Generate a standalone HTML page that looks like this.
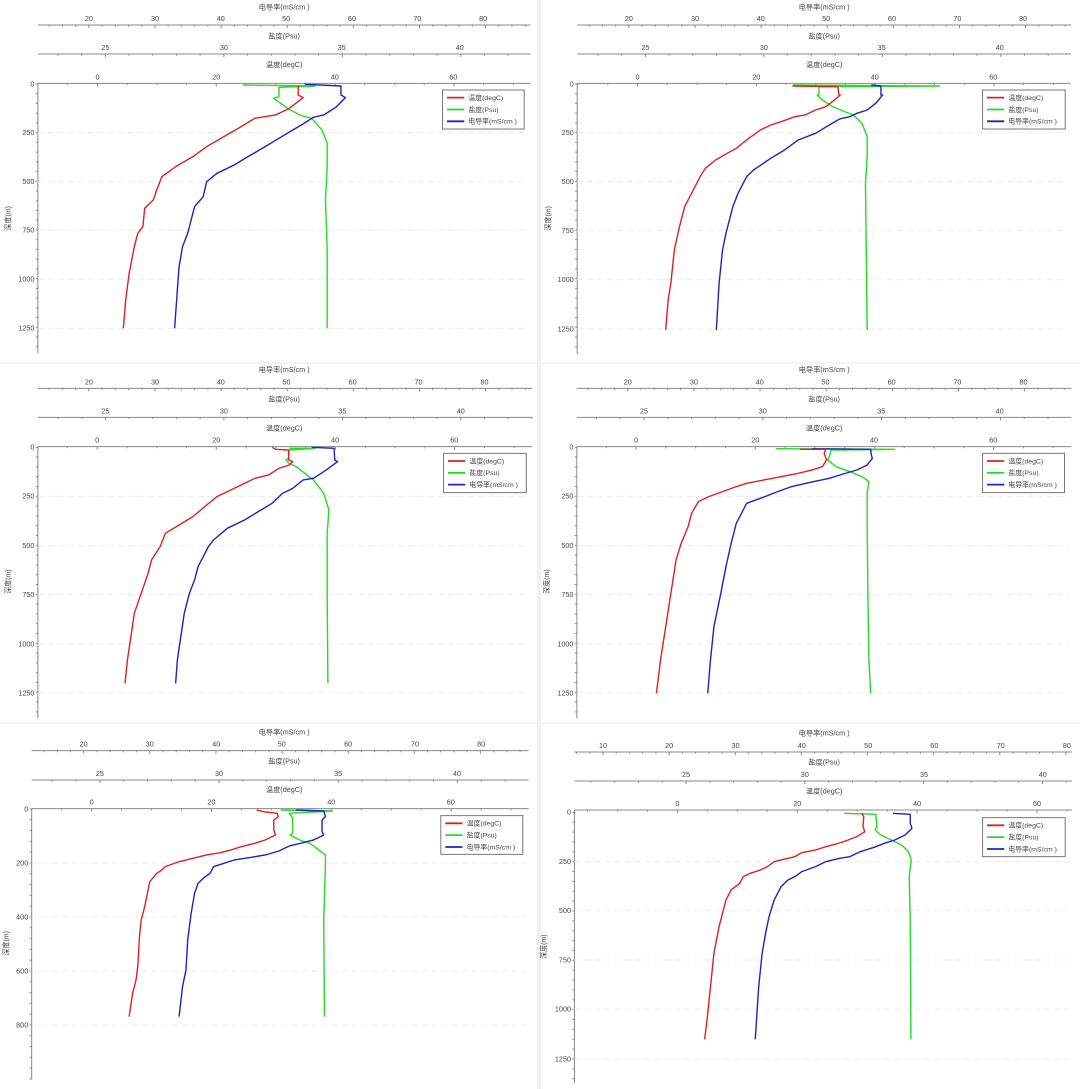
<!DOCTYPE html>
<html><head><meta charset="utf-8"><style>
html,body{margin:0;padding:0;background:#fff;}
svg{display:block;}
text{font-family:"Liberation Sans","Noto Sans CJK SC",sans-serif;fill:#444;}
</style></head><body>
<svg id="s" width="1080" height="1089" viewBox="0 0 1080 1089" xmlns="http://www.w3.org/2000/svg">
<rect width="1080" height="1089" fill="#fff"/>
<rect x="537" y="0" width="4" height="1089" fill="#f0f0f0"/>
<rect x="0" y="362" width="1080" height="2" fill="#f3f3f3"/>
<rect x="0" y="722" width="1080" height="2" fill="#f3f3f3"/>
</svg>
<script>
var NS="http://www.w3.org/2000/svg";
var svg=document.getElementById('s');
function el(p,n,a,t){var e=document.createElementNS(NS,n);for(var k in a)e.setAttribute(k,a[k]);if(t!==undefined)e.textContent=t;p.appendChild(e);return e;}
function ln(g,x1,y1,x2,y2,c,w,d){var a={x1:x1,y1:y1,x2:x2,y2:y2,stroke:c,'stroke-width':w||1,'vector-effect':'non-scaling-stroke'};if(d)a['stroke-dasharray']=d;el(g,'line',a);}
function tx(g,x,y,s,anc,fs){el(g,'text',{x:x,y:y,'font-size':fs||21,'text-anchor':anc||'middle'},s);}
function pl(g,pts,c){el(g,'polyline',{points:pts,fill:'none',stroke:c,'stroke-width':1.4,'stroke-linejoin':'round','vector-effect':'non-scaling-stroke'});}

var P=[
{ox:0,oy:0,L:110,R:1540,t1:22,ca:75,cl:[[20,258],[30,450],[40,641],[50,831],[60,1022],[70,1212],[80,1403]],
 st:110,sa:162,sl:[[25,306],[30,650],[35,992],[40,1335]],tt:195,ta:250,tl:[[0,283],[20,628],[40,972],[60,1316]],
 dl:[[0,252],[250,398],[500,545],[750,691],[1000,838],[1250,985]],dstep:50,dbot:1060,leg:[1285,270,237,117],yt:[25,655],
 r:"866,258 866,285 880,293 840,325 800,345 740,355 700,380 650,410 600,440 560,470 510,500 470,530 455,570 445,600 420,625 415,680 400,700 390,740 375,820 365,900 358,985",
 b:"885,253 990,258 990,285 1003,293 975,322 940,345 910,352 880,372 850,390 810,415 770,440 720,470 680,495 630,520 600,545 590,590 565,620 555,660 545,700 530,740 520,800 515,870 507,985",
 g:"705,255 915,258 810,262 810,290 795,295 835,325 870,345 905,355 935,390 950,430 950,500 945,600 950,750 950,985"},
{ox:540,oy:0,L:108,R:1542,t1:22,ca:75,cl:[[20,258],[30,450],[40,641],[50,831],[60,1022],[70,1212],[80,1403]],
 st:110,sa:162,sl:[[25,306],[30,650],[35,992],[40,1335]],tt:195,ta:250,tl:[[0,283],[20,628],[40,972],[60,1316]],
 dl:[[0,252],[250,398],[500,545],[750,692],[1000,839],[1250,987]],dstep:50,dbot:1062,leg:[1285,270,240,117],yt:[25,655],
 r:"735,255 735,258 865,260 868,285 872,285 855,300 830,320 800,330 770,345 740,350 700,365 670,375 640,390 600,420 570,445 540,462 510,480 480,505 465,530 440,580 420,620 405,680 390,750 385,800 380,850 372,900 365,990",
 b:"962,255 990,258 990,285 995,285 975,310 950,330 920,340 900,350 870,357 840,375 800,400 750,420 710,450 670,475 620,510 600,530 575,580 560,620 550,660 540,700 530,750 520,850 512,990",
 g:"735,255 1160,258 810,260 810,285 805,285 820,300 850,320 880,333 910,345 935,370 950,410 950,470 945,550 950,990"},
{ox:0,oy:360,L:110,R:1545,t1:30,ca:85,cl:[[20,258],[30,450],[40,641],[50,832],[60,1024],[70,1215],[80,1407]],
 st:118,sa:172,sl:[[25,306],[30,650],[35,994],[40,1338]],tt:205,ta:260,tl:[[0,282],[20,628],[40,973],[60,1319]],
 dl:[[0,262],[250,409],[500,557],[750,704],[1000,852],[1250,999]],dstep:50,dbot:1075,leg:[1288,280,240,118],yt:[25,665],
 r:"790,262 800,268 838,270 838,300 850,305 840,315 810,325 780,345 740,355 710,370 670,390 630,410 600,435 560,470 520,495 480,520 465,560 440,600 430,640 410,700 390,760 380,830 370,900 363,970",
 b:"905,262 970,265 972,300 980,305 960,320 940,335 910,355 880,360 850,385 820,400 790,430 750,455 710,480 660,505 620,540 605,560 575,620 565,660 550,700 535,760 525,830 515,900 510,970",
 g:"840,265 915,265 840,270 838,295 830,300 840,310 860,320 885,340 910,360 940,400 955,450 950,520 950,700 952,970"},
{ox:540,oy:360,L:107,R:1543,t1:30,ca:85,cl:[[20,255],[30,447],[40,638],[50,829],[60,1021],[70,1212],[80,1404]],
 st:118,sa:172,sl:[[25,302],[30,647],[35,991],[40,1335]],tt:205,ta:260,tl:[[0,279],[20,625],[40,970],[60,1316]],
 dl:[[0,262],[250,409],[500,557],[750,704],[1000,852],[1250,999]],dstep:50,dbot:1075,leg:[1285,280,238,118],yt:[20,665],
 r:"755,268 830,268 825,280 832,300 820,320 790,330 750,340 700,350 650,360 600,370 570,380 530,395 490,410 460,425 440,460 430,500 410,550 395,600 380,700 365,800 350,900 338,1000",
 b:"790,266 960,268 962,285 965,295 950,315 920,330 880,342 840,355 780,368 730,380 690,395 640,415 600,430 585,460 570,490 555,550 540,620 525,700 505,800 495,900 487,1000",
 g:"685,266 1030,268 845,270 840,290 835,300 860,320 900,335 935,350 955,365 950,400 950,500 952,700 955,900 960,1000"},
{ox:0,oy:720,L:92,R:1535,t1:38,ca:92,cl:[[20,243],[30,435],[40,628],[50,818],[60,1011],[70,1205],[80,1397]],
 st:125,sa:180,sl:[[25,290],[30,636],[35,982],[40,1327]],tt:210,ta:266,tl:[[0,266],[20,614],[40,962],[60,1309]],
 dl:[[0,267],[200,429],[400,591],[600,754],[800,916]],dstep:40,dbot:1078,leg:[1280,287,238,116],yt:[18,670],
 r:"745,270 765,275 805,280 808,290 795,300 795,330 800,345 770,360 740,370 700,380 670,390 640,398 600,405 560,415 520,425 480,440 470,450 455,460 435,485 430,510 420,560 410,600 405,650 400,740 395,780 385,820 375,890",
 b:"860,270 940,273 945,290 935,300 935,335 940,345 910,360 880,368 840,378 810,393 770,405 730,412 680,420 650,430 620,440 610,460 590,475 575,490 565,520 555,580 545,660 540,750 530,800 520,890",
 g:"815,270 965,273 840,280 850,295 850,340 842,345 870,360 900,370 945,405 945,430 940,600 942,890"},
{ox:540,oy:720,L:100,R:1545,t1:40,ca:96,cl:[[10,183],[20,375],[30,568],[40,760],[50,953],[60,1145],[70,1338],[80,1530]],
 st:128,sa:183,sl:[[25,424],[30,769],[35,1115],[40,1460]],tt:215,ta:270,tl:[[0,399],[20,747],[40,1095],[60,1443]],
 dl:[[0,277],[250,425],[500,572],[750,720],[1000,868],[1250,1017]],dstep:50,dbot:1090,leg:[1285,293,240,117],yt:[12,680],
 r:"935,280 940,290 938,320 943,335 920,350 890,362 860,372 830,380 800,390 760,398 740,410 700,420 680,425 660,440 640,450 610,460 590,470 580,490 555,510 540,540 530,580 520,620 505,700 495,800 485,900 478,958",
 b:"1025,280 1075,283 1075,310 1080,325 1060,345 1030,360 1000,370 970,382 930,395 900,410 870,415 830,425 800,440 760,455 740,470 720,480 700,500 680,540 665,590 655,640 645,700 635,800 625,958",
 g:"883,280 975,283 978,320 973,330 990,345 1020,360 1050,375 1070,395 1078,420 1072,470 1075,600 1077,958"}
];
var cx=(P[0].L+P[0].R)/2;
P.forEach(function(p){
 var g=el(svg,'g',{transform:'translate('+p.ox+','+p.oy+') scale(0.3444,0.3333)'});
 var mid=825;
 // titles
 tx(g,mid,p.t1+6,'电导率(mS/cm  )');
 tx(g,mid,p.st+6,'盐度(Psu)');
 tx(g,mid,p.tt+6,'温度(degC)');
 function axis(y,labels,minorPerMajor,minorLen){
  ln(g,p.L,y,p.R,y,'#888',1);
  var v0=labels[0][0],x0=labels[0][1],v1=labels[1][0],x1=labels[1][1];
  var ppu=(x1-x0)/(v1-v0), dv=(v1-v0)/minorPerMajor;
  var vs=v0+(p.L-x0)/ppu, ve=v0+(p.R-x0)/ppu;
  for(var v=Math.ceil(vs/dv)*dv; v<=ve; v+=dv){
   var x=x0+(v-v0)*ppu; var maj=Math.abs(v/(v1-v0)-Math.round(v/(v1-v0)))<1e-6;
   ln(g,x,y,x,y+(maj?9:5),'#888',1);
  }
  labels.forEach(function(l){tx(g,l[1],y-12,String(l[0]));});
 }
 axis(p.ca,p.cl,5);
 axis(p.sa,p.sl,5);
 axis(p.ta,p.tl,4);
 // depth axis
 ln(g,p.L,p.ta,p.L,p.dbot,'#888',1);
 var d0=p.dl[0][1],d1=p.dl[1][1],per=(d1-d0)/(p.dl[1][0]-p.dl[0][0]);
 for(var d=0; d0+d*per<=p.dbot; d+=p.dstep){var y=d0+d*per; ln(g,p.L-6,y,p.L,y,'#888',1);}
 p.dl.forEach(function(l,i){tx(g,p.L-10,l[1]+7,String(l[0]),'end');
  if(i>0) ln(g,p.L,l[1],p.R-10,l[1],'#ececec',1,'6,4');});
 // y title
 el(g,'text',{x:0,y:0,'font-size':21,'text-anchor':'middle',transform:'translate('+(p.yt[0]+6)+','+p.yt[1]+') rotate(-90)'},'深度(m)');
 // curves
 pl(g,p.g,'#22dd22');
 pl(g,p.b,'#2020c8');
 pl(g,p.r,'#e02020');
 // legend
 var lg=p.leg;
 el(g,'rect',{x:lg[0],y:lg[1],width:lg[2],height:lg[3],fill:'#fff',stroke:'#777','stroke-width':1,'vector-effect':'non-scaling-stroke'});
 var items=[['温度(degC)','#e02020'],['盐度(Psu)','#22dd22'],['电导率(mS/cm  )','#2020c8']];
 items.forEach(function(it,i){var y=lg[1]+23+i*35.5;
  el(g,'line',{x1:lg[0]+13,y1:y,x2:lg[0]+63,y2:y,stroke:it[1],'stroke-width':1.8,'vector-effect':'non-scaling-stroke'});
  tx(g,lg[0]+75,y+7,it[0],'start',20);});
});
</script>
</body></html>
